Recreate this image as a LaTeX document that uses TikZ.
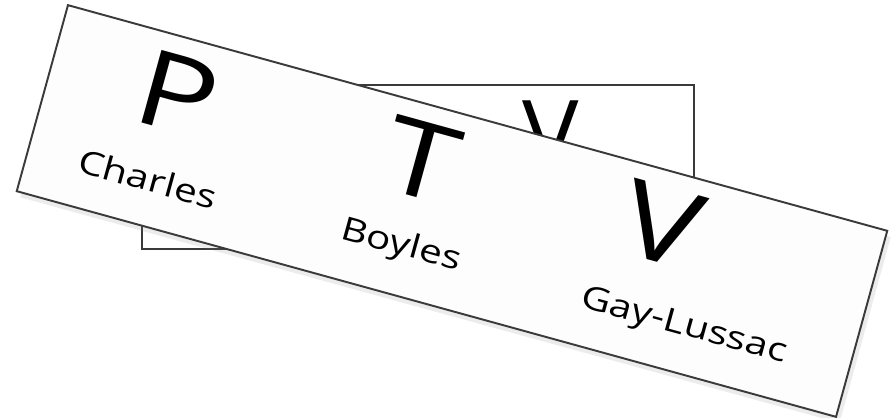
\documentclass[tikz,border=0pt]{standalone}
\usepackage{fontspec}
\setmainfont{Open Sans}
\newfontfamily\cardfont[FakeStretch=1.25]{Open Sans}
\usetikzlibrary{shadows}
\definecolor{edgex}{HTML}{3A3A3A}
\definecolor{cardbg}{HTML}{FDFDFD}
\tikzset{
  card/.style={draw=edgex,line width=1.1pt,fill=cardbg,inner sep=0pt,minimum width=17cm,minimum height=3.86cm,
    drop shadow={shadow xshift=2pt,shadow yshift=-3.5pt,opacity=0.15}},
  big/.style={font=\cardfont\fontsize{60}{60}\selectfont,inner sep=0pt,transform shape},
  lawname/.style={font=\cardfont\fontsize{18.5}{18.5}\selectfont,inner sep=0pt,transform shape}
}
\begin{document}
\begin{tikzpicture}[x=0.02cm,y=-0.02cm]
\useasboundingbox (0,0) rectangle (896,418);
% frame behind the card
\draw[edgex,line width=0.8pt] (142,85) rectangle (694,249);
\node[font=\fontsize{54}{54}\selectfont,anchor=north,inner sep=0pt] (vback) at (551,100) {V};
% tilted card
\node[card,rotate=-15.4] (card) at (452,211) {};
\begin{scope}[shift={(card.north west)},rotate=-15.4]
\node[big] (p) at (130,57) {P};
\node[big] (t) at (383,56) {T};
\node[big] (v) at (632,55) {V};
\node[lawname] (charles) at (124,147) {Charles};
\node[lawname] (boyles) at (386,145) {Boyles};
\node[lawname] (gaylussac) at (680,148) {Gay-Lussac};
\end{scope}
\end{tikzpicture}
\end{document}
